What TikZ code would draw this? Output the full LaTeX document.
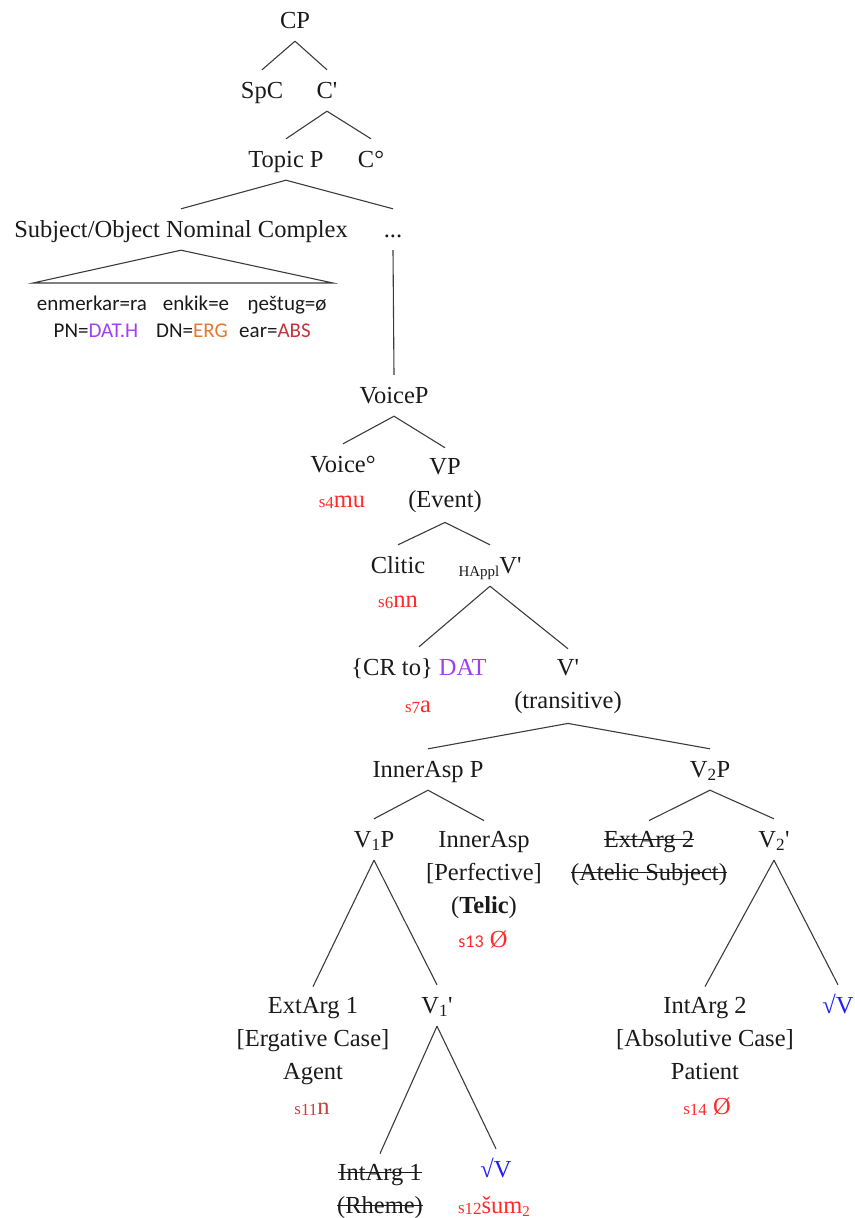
\documentclass[tikz,border=0pt]{standalone}
\usepackage{fontspec}
\setmainfont{Liberation Serif}
\newfontfamily\glossfont{Carlito}
\definecolor{ink}{HTML}{1A1A1A}
\definecolor{branchgray}{HTML}{3C3C3C}
\definecolor{morph}{HTML}{FF2A2A}
\definecolor{morphdark}{HTML}{C8403C}
\definecolor{datcol}{HTML}{A040F0}
\definecolor{ergcol}{HTML}{E8782E}
\definecolor{abscol}{HTML}{C83240}
\definecolor{rootcol}{HTML}{2020FF}
\newcommand\pr{\textquotesingle}
% struck-out text: the text with a rule drawn through it
\newsavebox\strikebox
\newcommand\strike[1]{\sbox\strikebox{#1}\rlap{\usebox\strikebox}\rule[0.27em]{\wd\strikebox}{1pt}}
% slot index: small s with a lowered number
\newcommand\sidx[1]{{\fontsize{17}{17}\selectfont s\lower1.5pt\hbox{#1}}}
\newcommand\sidxsans[1]{{\glossfont\fontsize{18}{18}\selectfont s#1}}
\newcommand\sub[1]{\lower3pt\hbox{\fontsize{15}{15}\selectfont #1}}
\begin{document}
\begin{tikzpicture}[x=1pt,y=-1pt,
  catfont/.style={text=ink, font=\fontsize{24.5}{33}\selectfont},
  % single-line category: placed at its baseline
  one/.style={catfont, anchor=base, inner xsep=2pt, inner ysep=10pt,
    text height=18pt, text depth=3pt},
  % multi-line category: placed at the baseline of its last line
  multi/.style={catfont, anchor=base, align=center, inner xsep=2pt, inner ysep=10pt},
  gloss/.style={anchor=base, inner sep=0pt, text=ink,
    font=\glossfont\fontsize{21}{21}\selectfont},
  morpheme/.style={anchor=base, inner sep=0pt, text=morph,
    font=\fontsize{24.5}{24.5}\selectfont},
  branch/.style={draw=branchgray, line width=1.1pt}]
\useasboundingbox (0,0) rectangle (854,1218);

% ---- CP layer
\node[one] (CP) at (295,28) {CP};
\node[one] (SpC) at (262,98) {SpC};
\node[one] (Cbar) at (327,98) {C\pr};
\node[one] (TopP) at (286,167) {Topic P};
\node[one] (Chead) at (371,167) {C°};
\node[one] (SONC) at (181,237) {Subject/Object Nominal Complex};
\node[one] (dots) at (393,237) {...};
\coordinate (triL) at (33,283);
\coordinate (triR) at (333,283);

% ---- nominal complex glosses
\node[gloss] (g1) at (92,310) {enmerkar=ra};
\node[gloss] (g2) at (196,310) {enkik=e};
\node[gloss] (g3) at (287,310) {ŋeštug=ø};
\node[gloss] (g4) at (96,337) {PN=\textcolor{datcol}{DAT.H}};
\node[gloss] (g5) at (192,337) {DN=\textcolor{ergcol}{ERG}};
\node[gloss] (g6) at (275,337) {ear=\textcolor{abscol}{ABS}};

% ---- Voice / VP
\node[one] (VoiceP) at (394,403) {VoiceP};
\node[one] (Voice) at (343,472) {Voice°};
\node[multi] (VP) at (445,507) {VP\\(Event)};
\node[morpheme] (m4) at (342,507) {\sidx{4}mu};
\node[one] (Clitic) at (398,573) {Clitic};
\node[one] (HAppl) at (490,573) {\sub{HAppl}V\pr};
\node[morpheme] (m6) at (398,607) {\sidx{6}nn};
\node[one] (CRto) at (419,675) {\{CR to\} \textcolor{datcol}{DAT}};
\node[multi] (Vbar) at (568,708) {V\pr\\(transitive)};
\node[morpheme] (m7) at (418,712) {\sidx{7}a};

% ---- aspect and the two V layers
\node[one] (InAspP) at (428,777) {InnerAsp P};
\node[one] (V2P) at (710,777) {V\textsubscript{2}P};
\node[one] (V1P) at (374,847) {V\textsubscript{1}P};
\node[multi] (InAsp) at (484,913) {InnerAsp\\{}[Perfective]\\(\textbf{Telic})};
\node[morpheme] (m13) at (483,947) {\sidxsans{13} Ø};
\node[multi] (ExtArg2) at (649,880) {\strike{ExtArg 2}\\\strike{(Atelic Subject)}};
\node[one] (V2bar) at (774,847) {V\textsubscript{2}\pr};

\node[multi] (ExtArg1) at (313,1079) {ExtArg 1\\{}[Ergative Case]\\Agent};
\node[morpheme, text=morphdark] (m11) at (312,1114) {\sidx{11}n};
\node[one] (V1bar) at (437,1013) {V\textsubscript{1}\pr};
\node[multi] (IntArg1) at (380,1213) {\strike{IntArg 1}\\\strike{(Rheme)}};
\node[one, text=rootcol] (root1) at (496,1177) {√V};
\node[morpheme] (m12) at (494,1213) {\sidx{12}šum\sub{2}};

\node[multi] (IntArg2) at (705,1079) {IntArg 2\\{}[Absolutive Case]\\Patient};
\node[morpheme] (m14) at (707,1114) {\sidx{14} Ø};
\node[one, text=rootcol] (root2) at (838,1013) {√V};

% ---- branches
\draw[branch] (CP.south) -- (SpC.north);
\draw[branch] (CP.south) -- (Cbar.north);
\draw[branch] (Cbar.south) -- (TopP.north);
\draw[branch] (Cbar.south) -- (Chead.north);
\draw[branch] (TopP.south) -- (SONC.north);
\draw[branch] (TopP.south) -- (dots.north);
\draw[branch] (triL) -- (SONC.south) -- (triR) -- cycle;
\draw[branch] (dots.south) -- (VoiceP.north);
\draw[branch] (VoiceP.south) -- (Voice.north);
\draw[branch] (VoiceP.south) -- (VP.north);
\draw[branch] (VP.south) -- (Clitic.north);
\draw[branch] (VP.south) -- (HAppl.north);
\draw[branch] (HAppl.south) -- (CRto.north);
\draw[branch] (HAppl.south) -- (Vbar.north);
\draw[branch] (Vbar.south) -- (InAspP.north);
\draw[branch] (Vbar.south) -- (V2P.north);
\draw[branch] (InAspP.south) -- (V1P.north);
\draw[branch] (InAspP.south) -- (InAsp.north);
\draw[branch] (V2P.south) -- (ExtArg2.north);
\draw[branch] (V2P.south) -- (V2bar.north);
\draw[branch] (V1P.south) -- (ExtArg1.north);
\draw[branch] (V1P.south) -- (V1bar.north);
\draw[branch] (V1bar.south) -- (IntArg1.north);
\draw[branch] (V1bar.south) -- (root1.north);
\draw[branch] (V2bar.south) -- (IntArg2.north);
\draw[branch] (V2bar.south) -- (root2.north);
\end{tikzpicture}
\end{document}
